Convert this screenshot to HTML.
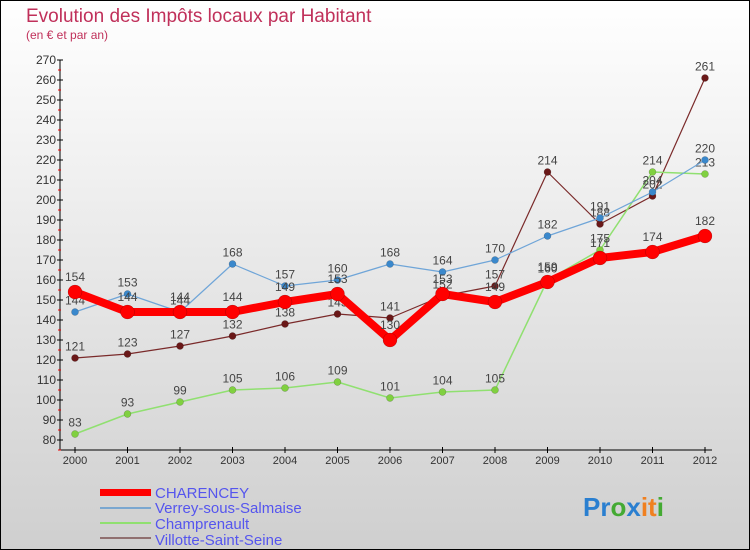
<!DOCTYPE html>
<html><head><meta charset="utf-8"><style>
body{margin:0}
#c{width:750px;height:550px;position:relative;overflow:hidden;font-family:"Liberation Sans",sans-serif}
</style></head><body>
<div id="c">
<svg id="s" width="750" height="550" xmlns="http://www.w3.org/2000/svg">
<defs><linearGradient id="bg" x1="0" y1="0" x2="0" y2="1"><stop offset="0" stop-color="#ffffff"/><stop offset="1" stop-color="#cfcfcf"/></linearGradient></defs>
<rect x="0.5" y="0.5" width="749" height="549" fill="url(#bg)" stroke="#000"/>
<text x="26" y="22" font-size="19" fill="#c0305a">Evolution des Impôts locaux par Habitant</text>
<text x="26" y="39" font-size="12" fill="#c0305a">(en € et par an)</text>
<g id="axes"></g><g id="marks"></g>
<g>
<rect x="100" y="489" width="51" height="7" fill="#f00"/>
<line x1="100" y1="508" x2="151" y2="508" stroke="#7aa7d0" stroke-width="2"/>
<line x1="100" y1="523" x2="151" y2="523" stroke="#90e070" stroke-width="2"/>
<line x1="100" y1="538" x2="151" y2="538" stroke="#907070" stroke-width="2"/>
<text x="155" y="498" font-size="15" fill="#5555ee">CHARENCEY</text>
<text x="155" y="513" font-size="15" fill="#5555ee">Verrey-sous-Salmaise</text>
<text x="155" y="529" font-size="15" fill="#5555ee">Champrenault</text>
<text x="155" y="545" font-size="15" fill="#5555ee">Villotte-Saint-Seine</text>
</g>
<text x="583" y="516" font-size="26" font-weight="bold"><tspan fill="#2a7fd0">Pr</tspan><tspan fill="#44aa33">o</tspan><tspan fill="#2a7fd0">x</tspan><tspan fill="#f08020">it</tspan><tspan fill="#44aa33">i</tspan></text>
</svg>
</div>
<script>
const years=[2000,2001,2002,2003,2004,2005,2006,2007,2008,2009,2010,2011,2012];
const yTicks=[80,90,100,110,120,130,140,150,160,170,180,190,200,210,220,230,240,250,260,270];
const charencey=[154,144,144,144,149,153,130,153,149,159,171,174,182];
const verrey=[144,153,144,168,157,160,168,164,170,182,191,204,220];
const champrenault=[83,93,99,105,106,109,101,104,105,160,175,214,213];
const villotte=[121,123,127,132,138,143,141,152,157,214,188,202,261];
const NS="http://www.w3.org/2000/svg";
const X=i=>75+i*52.5, Y=v=>440-(v-80)*2;
function mk(t,a,p){const e=document.createElementNS(NS,t);for(const k in a)e.setAttribute(k,a[k]);p.appendChild(e);return e;}
const ax=document.getElementById('axes'), mg=document.getElementById('marks');
let l=mk('line',{x1:60,y1:Y(270),x2:60,y2:Y(80)+10,stroke:'#000'},ax);


l=mk('line',{x1:60,y1:450,x2:712,y2:450,stroke:'#000'},ax);


yTicks.forEach(v=>{
 mk('line',{x1:57,y1:Y(v),x2:63,y2:Y(v),stroke:'#000'},ax);
 mk('line',{x1:58,y1:Y(v)+10,x2:61,y2:Y(v)+10,stroke:'#e00'},ax);
 const t=mk('text',{x:56,y:Y(v)+4,'font-size':12,fill:'#333','text-anchor':'end'},ax);t.textContent=v;
 
 
});
years.forEach((yr,i)=>{
 mk('line',{x1:X(i),y1:447,x2:X(i),y2:453,stroke:'#000'},ax);
 const t=mk('text',{x:X(i),y:464,'font-size':11,fill:'#333','text-anchor':'middle'},ax);t.textContent=yr;
 
 
});
function series(d,name,col,dot,w,r,labelCol){
 const g=mk('g',{},mg);
 
 
 mk('polyline',{points:d.map((v,i)=>X(i)+','+Y(v)).join(' '),fill:'none',stroke:col,'stroke-width':w,'stroke-linejoin':'round'},g);
 d.forEach((v,i)=>{
  const c=mk('circle',{cx:X(i),cy:Y(v),r:r,fill:dot,stroke:'rgba(0,0,0,0.3)','stroke-width':0.5},g);
  
  
  const t=mk('text',{x:X(i),y:Y(v)-r-4,'font-size':12,fill:'#444','text-anchor':'middle'},g);t.textContent=v;
 });
}
series(villotte,'villotte','#7a2a2a','#6a1818',1.2,3.5);
series(champrenault,'champrenault','#90e070','#80d040',1.5,3.5);
series(verrey,'verrey','#6fa5d8','#3a88cc',1.2,3.5);
series(charencey,'charencey','#f00','#f00',8,7);
</script>
</body></html>
